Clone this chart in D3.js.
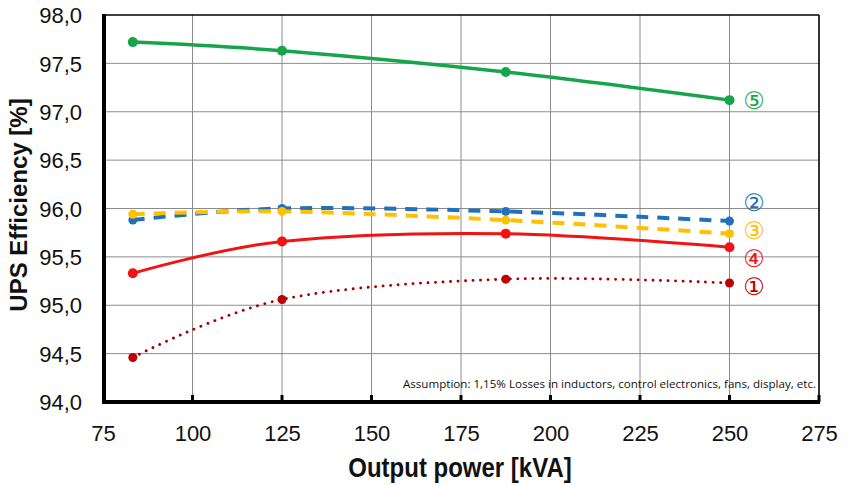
<!DOCTYPE html>
<html>
<head>
<meta charset="utf-8">
<script src="https://cdn.jsdelivr.net/npm/d3@7"></script>
<style>
  html, body { margin: 0; padding: 0; background: #ffffff; }
  svg { display: block; }
</style>
</head>
<body>
<div id="chart"></div>
<script>
// ---- data ----
const xValues = [83.33, 125, 187.5, 250];
const seriesNames = ["①", "②", "③", "④", "⑤"];
const series1 = [94.46, 95.06, 95.27, 95.23];
const series2 = [95.88, 96.00, 95.97, 95.87];
const series3 = [95.94, 95.97, 95.88, 95.74];
const series4 = [95.33, 95.66, 95.74, 95.60];
const series5 = [97.72, 97.63, 97.41, 97.12];
const xTicks = [75, 100, 125, 150, 175, 200, 225, 250, 275];
const yTicks = [94.0, 94.5, 95.0, 95.5, 96.0, 96.5, 97.0, 97.5, 98.0];
const xTitle = "Output power [kVA]";
const yTitle = "UPS Efficiency [%]";
const note = "Assumption: 1,15% Losses in inductors, control electronics, fans, display, etc.";

// ---- styles ----
const styles = [
  { values: series1, color: "#C00000", line: "#A00000", width: 2.8, dash: "0.1,7.4", cap: "round", r: 4.5 },
  { values: series2, color: "#1F72BA", line: "#1F72BA", width: 4, dash: "12,9", cap: "butt", r: 4.5 },
  { values: series3, color: "#FFC000", line: "#FFC000", width: 4, dash: "12,9", cap: "butt", r: 4.5 },
  { values: series4, color: "#F01414", line: "#F01414", width: 3, dash: null, cap: "butt", r: 5 },
  { values: series5, color: "#17A54C", line: "#17A54C", width: 3.5, dash: null, cap: "butt", r: 5 }
];

const W = 852, H = 485;
const svg = d3.select("#chart").append("svg").attr("width", W).attr("height", H);

const x = d3.scaleLinear().domain([75, 275]).range([103, 819]);
const y = d3.scaleLinear().domain([94, 98]).range([402, 15]);

const fmt = v => d3.format(".1f")(v).replace(".", ",");

// gridlines
const grid = svg.append("g");
grid.selectAll("line.h").data(yTicks.filter(v => v > 94 && v < 98)).join("line")
  .attr("x1", x(75)).attr("x2", x(275))
  .attr("y1", d => y(d)).attr("y2", d => y(d))
  .attr("stroke", "#8c8c8c").attr("stroke-width", 1);
grid.selectAll("line.v").data(xTicks.filter(v => v > 75 && v < 275)).join("line")
  .attr("x1", d => x(d)).attr("x2", d => x(d))
  .attr("y1", y(98)).attr("y2", y(94))
  .attr("stroke", "#8c8c8c").attr("stroke-width", 1);
// top and right border
svg.append("line").attr("x1", x(75)).attr("x2", x(275)).attr("y1", y(98)).attr("y2", y(98))
  .attr("stroke", "#000").attr("stroke-width", 1.6);
svg.append("line").attr("x1", x(275)).attr("x2", x(275)).attr("y1", y(98)).attr("y2", y(94))
  .attr("stroke", "#000").attr("stroke-width", 1.6);

// axes
const xAxis = d3.axisBottom(x).tickValues(xTicks).tickSize(0).tickFormat(d => d);
const gx = svg.append("g").attr("transform", `translate(0,${y(94)})`).call(xAxis);
gx.select(".domain").remove();
gx.selectAll("text").attr("font-family", "Liberation Sans, Arial, sans-serif")
  .attr("font-size", 22).attr("fill", "#111").attr("dy", 0).attr("y", 39);

const yAxis = d3.axisLeft(y).tickValues(yTicks).tickSize(0).tickFormat(fmt);
const gy = svg.append("g").attr("transform", `translate(${x(75)},0)`).call(yAxis);
gy.select(".domain").remove();
gy.selectAll("text").attr("font-family", "Liberation Sans, Arial, sans-serif")
  .attr("font-size", 22).attr("fill", "#111").attr("x", -21).attr("dy", "0.35em");

// thick axis lines
svg.append("line").attr("x1", x(75) + 1).attr("x2", x(75) + 1).attr("y1", y(98) - 1).attr("y2", y(94) + 2)
  .attr("stroke", "#000").attr("stroke-width", 4);
svg.append("line").attr("x1", x(75) - 1).attr("x2", x(275) + 1).attr("y1", y(94)).attr("y2", y(94))
  .attr("stroke", "#000").attr("stroke-width", 4);
// inner tick marks on bottom axis
svg.append("g").selectAll("line").data(xTicks.slice(1)).join("line")
  .attr("x1", d => x(d)).attr("x2", d => x(d))
  .attr("y1", y(94)).attr("y2", y(94) - 7)
  .attr("stroke", "#000").attr("stroke-width", 3);

// note
svg.append("text").attr("x", 403).attr("y", 388)
  .attr("font-family", "Open Sans, Liberation Sans, sans-serif").attr("font-size", 11.5)
  .attr("textLength", 413).attr("lengthAdjust", "spacingAndGlyphs")
  .attr("fill", "#111").text(note);

// series
const line = d3.line().x((d, i) => x(xValues[i])).y(d => y(d)).curve(d3.curveCatmullRom.alpha(0));
styles.forEach(s => {
  const g = svg.append("g");
  g.append("path").datum(s.values).attr("d", line)
    .attr("fill", "none").attr("stroke", s.line).attr("stroke-width", s.width)
    .attr("stroke-dasharray", s.dash).attr("stroke-linecap", s.cap);
  g.selectAll("circle").data(s.values).join("circle")
    .attr("cx", (d, i) => x(xValues[i])).attr("cy", d => y(d)).attr("r", s.r)
    .attr("fill", s.color);
});

// series labels
const labelY = [286, 202, 230, 258, 100];
seriesNames.forEach((n, i) => {
  svg.append("text").attr("x", 754).attr("y", labelY[i]).attr("dy", "0.36em")
    .attr("text-anchor", "middle")
    .attr("font-family", "DejaVu Sans, Noto Sans CJK JP, sans-serif")
    .attr("font-size", 24).attr("fill", styles[i].color).text(n);
});

// axis titles
svg.append("text").attr("transform", "translate(460,477) scale(1,1.12)").attr("text-anchor", "middle")
  .attr("font-family", "Liberation Sans, Arial, sans-serif").attr("font-weight", "bold")
  .attr("font-size", 24).attr("fill", "#111").text(xTitle);
svg.append("text").attr("transform", "translate(27,205) rotate(-90)").attr("text-anchor", "middle")
  .attr("font-family", "Liberation Sans, Arial, sans-serif").attr("font-weight", "bold")
  .attr("font-size", 24).attr("fill", "#111").text(yTitle);
</script>
</body>
</html>
